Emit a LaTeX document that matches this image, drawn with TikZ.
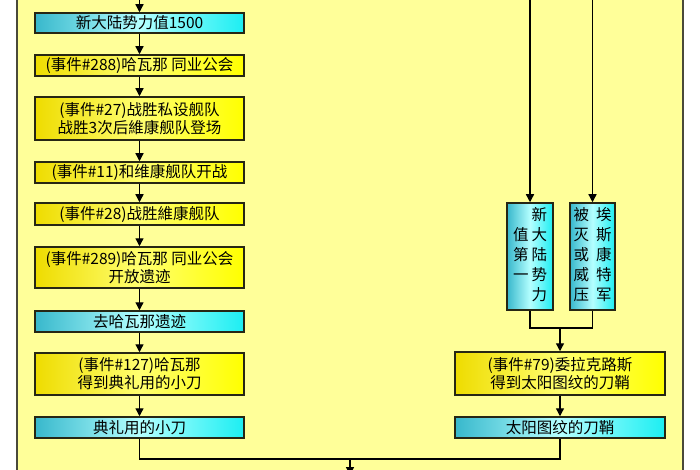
\documentclass[tikz,border=0pt]{standalone}
\usepackage{fontspec}
\setmainfont{Noto Sans CJK SC}
\usetikzlibrary{arrows.meta}
\definecolor{bg}{HTML}{FFFF99}
\definecolor{frame}{HTML}{4A4A3A}
\definecolor{boxline}{HTML}{262614}
\definecolor{yl}{HTML}{EEDC00}
\definecolor{ym}{HTML}{FFFF70}
\definecolor{yr}{HTML}{FFFF00}
\definecolor{cl}{HTML}{38B8CC}
\definecolor{cm}{HTML}{B4FFFF}
\definecolor{cr}{HTML}{1CEEF2}
\begin{document}
\begin{tikzpicture}[x=1pt,y=-1pt,
  boxbase/.style={draw=boxline, line width=1.5pt, inner sep=0pt, align=center,
    font=\fontsize{15.5}{18}\selectfont},
  ybox/.style={boxbase, left color=yl, right color=yr, middle color=ym},
  cbox/.style={boxbase, left color=cl, right color=cr, middle color=cm},
  lbox/.style={minimum width=209pt},
  rbox/.style={minimum width=210pt},
  conn/.style={draw=black, line width=1.3pt},
  arr/.style={conn, -{Triangle[width=8pt,length=8pt]}},
  frameline/.style={draw=frame, line width=1.5pt}]
\useasboundingbox (0,0) rectangle (700,470);
\clip (0,0) rectangle (700,470);
\fill[white] (0,0) rectangle (700,470);
\fill[bg] (17,0) rectangle (683,470);
\draw[frameline] (17,-5) -- (17,475);
\draw[frameline] (683,-5) -- (683,475);

% left column
\node[cbox,lbox,minimum height=20pt] (n1) at (139.5,23) {新大陆势力值1500};
\node[ybox,lbox,minimum height=21pt] (n2) at (139.5,65.5) {(事件\#288)哈瓦那 同业公会};
\node[ybox,lbox,minimum height=43pt] (n3) at (139.5,118.5) {(事件\#27)战胜私设舰队\\战胜3次后維康舰队登场};
\node[ybox,lbox,minimum height=21pt] (n4) at (139.5,172.5) {(事件\#11)和维康舰队开战};
\node[ybox,lbox,minimum height=22pt] (n5) at (139.5,214) {(事件\#28)战胜維康舰队};
\node[ybox,lbox,minimum height=41pt] (n6) at (139.5,267.5) {(事件\#289)哈瓦那 同业公会\\开放遗迹};
\node[cbox,lbox,minimum height=21pt] (n7) at (139.5,321.5) {去哈瓦那遗迹};
\node[ybox,lbox,minimum height=42pt] (n8) at (139.5,374) {(事件\#127)哈瓦那\\得到典礼用的小刀};
\node[cbox,lbox,minimum height=21pt] (n9) at (139.5,427.5) {典礼用的小刀};

% right column
\node[cbox,minimum width=46pt,minimum height=107pt,font=\fontsize{15.5}{20}\selectfont] (a) at (530,256.5)
  {\begin{tabular}{@{}c@{\hspace{3pt}}c@{}} & 新\\ 值 & 大\\ 第 & 陆\\ 一 & 势\\ & 力\end{tabular}};
\node[cbox,minimum width=45pt,minimum height=107pt,font=\fontsize{15.5}{20}\selectfont] (b) at (592.5,256.5)
  {\begin{tabular}{@{}c@{\hspace{7pt}}c@{}} 被 & 埃\\ 灭 & 斯\\ 或 & 康\\ 威 & 特\\ 压 & 军\end{tabular}};
\node[ybox,rbox,minimum height=43pt] (c) at (560,373.5) {(事件\#79)委拉克路斯\\得到太阳图纹的刀鞘};
\node[cbox,rbox,minimum height=21pt] (d) at (560,427.5) {太阳图纹的刀鞘};

% connectors
\coordinate (t1) at (139.5,-5);
\coordinate (ta) at (530,-5);
\coordinate (tb) at (592.5,-5);
\coordinate (jn) at (560,328);
\coordinate (bj) at (350,459);
\coordinate (bend) at (350,475);
\draw[arr] (t1) -- (n1);
\draw[arr] (n1) -- (n2);
\draw[arr] (n2) -- (n3);
\draw[arr] (n3) -- (n4);
\draw[arr] (n4) -- (n5);
\draw[arr] (n5) -- (n6);
\draw[arr] (n6) -- (n7);
\draw[arr] (n7) -- (n8);
\draw[arr] (n8) -- (n9);
\draw[arr] (ta) -- (a);
\draw[arr] (tb) -- (b);
\draw[conn] (a.south) |- (jn);
\draw[conn] (b.south) |- (jn);
\draw[arr] (jn) -- (c);
\draw[arr] (c) -- (d);
\draw[conn] (n9.south) |- (bj);
\draw[conn] (d.south) |- (bj);
\draw[arr] (bj) -- (bend);
\end{tikzpicture}
\end{document}
